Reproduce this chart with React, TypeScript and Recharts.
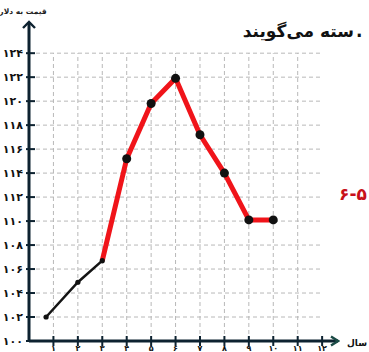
import React from 'react';
import { LineChart, Line, XAxis, YAxis, ReferenceLine } from 'recharts';

// years on the horizontal axis
const xTicks = [1, 2, 3, 4, 5, 6, 7, 8, 9, 10, 11, 12];
const xTickLabels = ['۱', '۲', '۳', '۴', '۵', '۶', '۷', '۸', '۹', '۱۰', '۱۱', '۱۲'];

// price in dollars
const yTicks = [100, 102, 104, 106, 108, 110, 112, 114, 116, 118, 120, 122, 124];
const yTickLabels = ['۱۰۰', '۱۰۲', '۱۰۴', '۱۰۶', '۱۰۸', '۱۱۰', '۱۱۲', '۱۱۴', '۱۱۶', '۱۱۸', '۱۲۰', '۱۲۲', '۱۲۴'];

// black part of the curve
const blackX = [0.7, 2, 3];
const blackY = [102, 104.9, 106.7];

// red part of the curve
const redX = [3, 4, 5, 6, 7, 8, 9, 10];
const redY = [106.7, 115.2, 119.8, 121.9, 117.2, 114, 110.1, 110.1];

const gridX = [1, 2, 3, 4, 5, 6, 7, 8, 9, 10, 11];
const gridY = [102, 104, 106, 108, 110, 112, 114, 116, 118, 120, 122, 124];

const blackData = blackX.map((x, i) => ({ x, y: blackY[i] }));
const redData = redX.map((x, i) => ({ x, y: redY[i] }));

const axisColor = '#0d2230';
const font = '"DejaVu Sans", sans-serif';

const YTick = (props: any) => {
  const { x, y, payload } = props;
  const idx = yTicks.indexOf(payload.value);
  return (
    <g>
      <line x1={x - 3} x2={x + 6} y1={y} y2={y} stroke={axisColor} strokeWidth={2} />
      <text x={23} y={y} textAnchor="end" dominantBaseline="central" fontFamily={font} fontWeight="bold" fontSize={11} fill="#111">
        {yTickLabels[idx]}
      </text>
    </g>
  );
};

const XTick = (props: any) => {
  const { x, y, payload } = props;
  const idx = xTicks.indexOf(payload.value);
  return (
    <g>
      <line x1={x} x2={x} y1={y - 5} y2={y + 5} stroke={axisColor} strokeWidth={2} />
      <text x={x} y={351} textAnchor="middle" fontFamily={font} fontWeight="bold" fontSize={8} fill="#111">
        {xTickLabels[idx]}
      </text>
    </g>
  );
};

const RedDot = (props: any) => {
  const { cx, cy, index } = props;
  if (index === 0) return <g key={`rd-${index}`} />;
  return <circle key={`rd-${index}`} cx={cx} cy={cy} r={4.5} fill="#111" />;
};

const BlackDot = (props: any) => {
  const { cx, cy, index } = props;
  return <circle key={`bd-${index}`} cx={cx} cy={cy} r={2.6} fill="#111" />;
};

export default function App() {
  return (
    <div style={{ position: 'absolute', left: 0, top: 0, width: 369, height: 352, background: '#fff', overflow: 'hidden' }}>
      <svg width={0} height={0} style={{ position: 'absolute' }}>
        <defs>
          <marker id="arrX" markerUnits="userSpaceOnUse" markerWidth={12} markerHeight={12} refX={10} refY={6} viewBox="0 0 12 12" orient="auto">
            <path d="M3,1.5 L10,6 L3,10.5" fill="none" stroke="#1a4a45" strokeWidth={2.4} />
          </marker>
          <marker id="arrY" markerUnits="userSpaceOnUse" markerWidth={14} markerHeight={14} refX={11} refY={7} viewBox="0 0 14 14" orient="auto-start-reverse">
            <path d="M5,1 L11,7 L5,13" fill="none" stroke={axisColor} strokeWidth={2.4} />
          </marker>
        </defs>
      </svg>
      <LineChart width={369} height={352} data={redData} margin={{ top: 22, right: 31, bottom: 0, left: 0 }}>
        <XAxis
          type="number"
          dataKey="x"
          domain={[0, 12.65]}
          ticks={xTicks}
          allowDataOverflow
          height={11}
          tickLine={false}
          tickSize={0}
          tickMargin={0}
          tick={<XTick />}
          interval={0}
          axisLine={{ stroke: axisColor, strokeWidth: 3, markerEnd: 'url(#arrX)' }}
        />
        <YAxis
          type="number"
          dataKey="y"
          domain={[100, 126.6]}
          ticks={yTicks}
          allowDataOverflow
          width={29}
          tickLine={false}
          tickSize={0}
          tickMargin={0}
          tick={<YTick />}
          interval={0}
          axisLine={{ stroke: axisColor, strokeWidth: 3, markerStart: 'url(#arrY)' }}
        />
        {gridX.map((gx) => (
          <ReferenceLine
            key={`gx-${gx}`}
            segment={[{ x: gx, y: 100 }, { x: gx, y: 124 }]}
            stroke="#b8b8b8"
            strokeWidth={1}
            strokeDasharray="4 3"
          />
        ))}
        {gridY.map((gy) => (
          <ReferenceLine
            key={`gy-${gy}`}
            segment={[{ x: 0, y: gy }, { x: 12, y: gy }]}
            stroke="#b8b8b8"
            strokeWidth={1}
            strokeDasharray="4 3"
          />
        ))}
        <Line
          data={redData}
          dataKey="y"
          type="linear"
          stroke="#f0141a"
          strokeWidth={5}
          strokeLinejoin="round"
          dot={RedDot}
          activeDot={false}
          isAnimationActive={false}
        />
        <Line
          data={blackData}
          dataKey="y"
          type="linear"
          stroke="#141414"
          strokeWidth={2.5}
          dot={BlackDot}
          activeDot={false}
          isAnimationActive={false}
        />
        <text x={23} y={14} textAnchor="middle" fontFamily={font} fontWeight="bold" fontSize={7.5} fill="#222">
          قیمت به دلار
        </text>
        <text x={354} y={37} textAnchor="end" fontFamily={font} fontWeight="bold" fontSize={17} fill="#111">
          سته می‌گویند
        </text>
        <text x={356} y={37} textAnchor="start" fontFamily={font} fontWeight="bold" fontSize={17} fill="#111">
          .
        </text>
        <text x={339} y={200} textAnchor="start" fontFamily={font} fontWeight="bold" fontSize={17} fill="#c8101a">
          ۶-۵
        </text>
        <text x={367} y={346} textAnchor="end" fontFamily={font} fontWeight="bold" fontSize={9} fill="#111">
          سال
        </text>
      </LineChart>
    </div>
  );
}
